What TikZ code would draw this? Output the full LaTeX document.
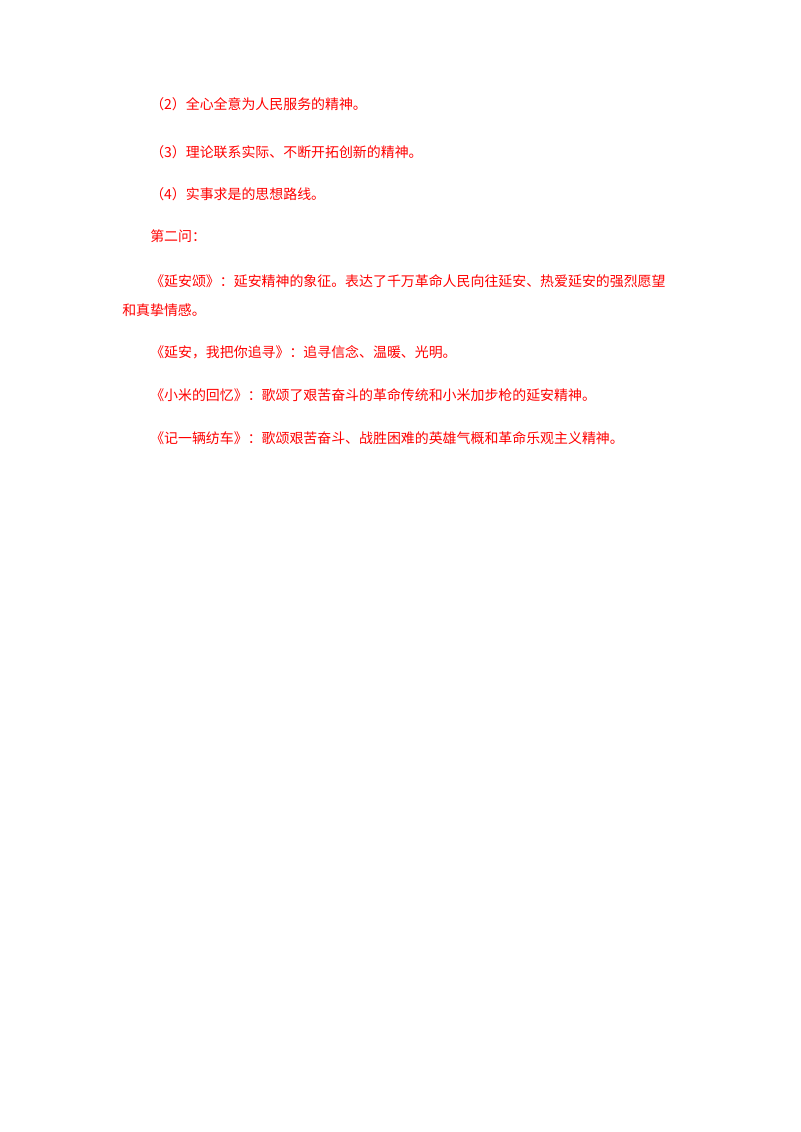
\documentclass[tikz,border=0pt]{standalone}
\usepackage{fontspec}
\newfontfamily\cjk{Noto Sans CJK SC}
\begin{document}
\begin{tikzpicture}[x=0.02625cm, y=-0.02625cm]
  \tikzset{line/.style={anchor=west, inner sep=0pt, text=red, font=\cjk\fontsize{10.4pt}{12pt}\selectfont}}
  \useasboundingbox (0,0) rectangle (800,1132);

  % first question, continued
  \node[line] (p2) at (150,104) {（2）全心全意为人民服务的精神。};
  \node[line] (p3) at (150,152) {（3）理论联系实际、不断开拓创新的精神。};
  \node[line] (p4) at (150,194) {（4）实事求是的思想路线。};

  % second question
  \node[line] (q2) at (150,236) {第二问：};
  \node[line] (s1) at (150,281) {《延安颂》：延安精神的象征。表达了千万革命人民向往延安、热爱延安的强烈愿望};
  \node[line] (s1b) at (122,310) {和真挚情感。};
  \node[line] (s2) at (150,352) {《延安，我把你追寻》：追寻信念、温暖、光明。};
  \node[line] (s3) at (150,395) {《小米的回忆》：歌颂了艰苦奋斗的革命传统和小米加步枪的延安精神。};
  \node[line] (s4) at (150,438) {《记一辆纺车》：歌颂艰苦奋斗、战胜困难的英雄气概和革命乐观主义精神。};
\end{tikzpicture}
\end{document}
